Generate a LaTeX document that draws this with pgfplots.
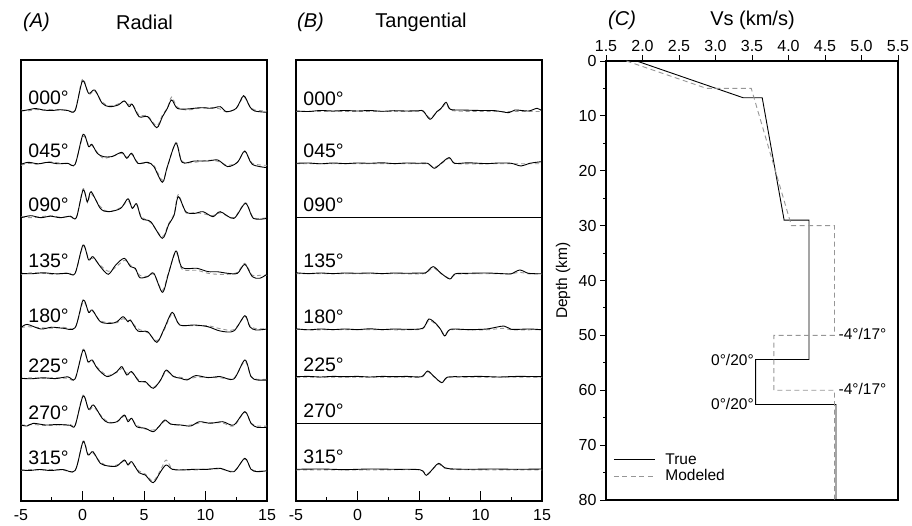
\documentclass[border=0pt]{standalone}
\usepackage{fontspec}
\setmainfont{Liberation Sans}
\usepackage{pgfplots}
\pgfplotsset{compat=1.18}
\usepackage{pgfplotstable}
\definecolor{modgray}{RGB}{150,150,150}
\newcommand\fs[1]{\fontsize{#1}{#1}\selectfont}

% Radial traces: t, true, modeled (amplitude in px above baseline)
\pgfplotstableread{
t r m
-5 -1 0
-4.5 0 -1
-3.8 1.5 0.5
-3.2 0 0
-2.5 -0.5 0.5
-1.8 0.3 0
-1.2 -0.5 0
-0.6 -0.5 -0.5
0 29 31
0.5 16.7 16
1.0 20 19
1.6 6.7 8
2.2 3.3 4
2.9 5 6
3.4 9 9
3.8 3.3 5
4.05 5.7 6
4.6 -6.7 -5
5.3 -6.7 -6
6.04 -17.7 -16
6.5 -6.7 -5
6.9 1.7 2
7.25 10 13
7.7 1.7 3
8.5 1 0
9.6 2.3 2
10.5 1.7 2.5
11.2 3.3 1
11.7 -1.7 -2
12.5 1.7 1.5
13.1 14.3 13
13.6 3.3 4
14.0 -1 0
15 -2.3 -1
}\RA
\pgfplotstableread{
t r m
-5 -1 -2
-4.4 1 0
-3.6 -0.5 -1
-2.8 1 1.5
-2.0 -0.5 0.5
-1.2 0 -0.5
-0.6 -1 -0.5
0.05 29 27
0.5 16.7 18
0.76 19 18
1.2 10 11
1.7 6.7 5
2.4 6.7 7
3.2 11 10
3.6 5 6
4.0 10 9
4.5 0 1
5.3 1 0
5.8 -3.3 -2
6.5 -19 -17
6.9 -3.3 -4
7.6 20 21
8.1 1 2
9.1 2.3 1
10.2 2.3 3
11.0 3.3 2
11.8 -3.3 -2
12.6 1 1
13.2 12.3 12
13.8 -1 0
15 -4.3 -2
}\RB
\pgfplotstableread{
t r m
-5 -1 0
-4.2 1 -1
-3.4 -1 0
-2.6 0.5 1
-1.8 -1 -0.5
-1.0 0.5 0
-0.5 -1 -1
0.05 26.7 28
0.4 15 14
0.7 25 23
1.45 8.3 10
2.1 5 5
3.1 8.3 9
3.7 18 16
4.05 8.3 9
4.4 13 12
4.8 -1.7 0
5.55 -5 -6
6.49 -21.6 -20
7.0 -8 -7
7.45 1.7 3
7.79 20 22
8.4 5 4
9.1 3.3 4
9.8 5 3
10.6 0 1
11.2 5 4
12.3 -1.7 -1
13.25 13.3 14
13.9 -1.7 -1
15 -1.7 -1
}\RC
\pgfplotstableread{
t r m
-5 0 -1
-4.2 -0.5 0.5
-3.2 0.5 0
-2.2 -0.5 -1
-1.2 0 0.5
-0.6 0 0
0.05 28.3 27
0.5 13.3 15
0.85 16.7 15
1.45 6.7 8
2.1 -1 2
2.7 8.3 6
3.4 15 13
3.9 6.7 8
4.3 5 4
4.65 -4.3 -2
5.3 -3.3 -3
5.8 0 -1
6.5 -19 -17
7.0 0 1
7.6 22.3 21
8.1 5.7 4
9.3 5 3
10.2 1.7 0
11.0 1.5 -1
11.8 0 -1
12.6 0 1
13.2 9 10
13.8 -3.3 -2
14.4 -5 -2
15 -1 -2
}\RD
\pgfplotstableread{
t r m
-5 0 0
-4.5 3.3 1
-3.4 -1.3 0
-2.5 0.5 -0.5
-1.6 -0.5 0.5
-0.6 0 0
0.05 27.7 26
0.5 15.3 16
0.8 17.7 17
1.45 6 7
2.3 4.3 5
2.8 6 5
3.3 11 9
3.7 6 7
3.9 7.7 7
4.5 -3.3 -1
5.3 -4 -5
6.05 -14.7 -13
6.65 -0.7 -2
7.3 15.3 14
7.9 2.7 3
9.1 2.7 2
10.2 1 2
11.2 -3.3 -1
12.3 -3.3 -2
13.2 12 11
13.6 1 2
14.1 -2.3 -1
15 -1.3 -1
}\RE
\pgfplotstableread{
t r m
-5 0 -0.5
-4.2 -0.5 0.5
-3.2 0.5 0
-2.2 -0.3 0.5
-1.2 1.5 0
-0.6 -0.5 -0.5
0.05 28.3 29
0.45 16.7 16
0.8 18.3 17
1.2 10 11
2.0 1.7 3
2.8 6.7 6
3.2 11.7 10
3.6 3.3 5
4.0 6.7 6
4.6 -3.3 -2
5.1 -3.3 -4
5.75 -10 -9
6.35 -1.7 -2
6.8 8.3 7
7.4 1.7 2
8.0 0 1
8.5 -1.7 -1
9.2 2.7 1
10.2 0.7 1
11.2 1.7 0.5
12.3 -0.7 0
13.2 18.3 17
13.7 1.7 2
14.2 -1.7 -1
15 -1.7 -1
}\RF
\pgfplotstableread{
t r m
-5 0 0
-4.5 -1 0
-4.0 1.7 0.5
-3.0 0 -0.5
-2.0 0.5 0
-1.0 -0.3 0.5
-0.6 -0.5 -0.5
0.05 29 30
0.5 15.7 15
0.9 20 18
1.6 6.7 8
2.1 2.3 3
2.8 3.3 3
3.4 10 9
3.7 3.3 5
4.0 6.7 6
4.4 -1.7 0
5.1 -3.3 -4
5.75 -6.7 -5
6.2 -1.7 -2
6.7 5 4
7.15 1 1
8.0 0 -0.5
8.8 -1 0
9.5 3.3 2
10.4 1.7 2.5
11.4 3.3 2
12.3 0 -1
13.2 13.3 13
13.7 1.7 2
14.2 -2.3 -1
15 -2.3 -1
}\RG
\pgfplotstableread{
t r m
-5 0 -0.5
-4.3 -0.5 0.5
-3.5 0.5 0
-2.6 -0.5 0.5
-1.6 0.5 0
-0.6 -0.5 -0.5
0.05 28.3 29
0.45 15 16
0.85 18.3 17
1.45 6.7 8
2.1 4 4
2.8 4 5
3.4 10 9
3.7 5 6
4.0 8.3 7
4.6 -2.7 -1
5.1 -5 -4
5.75 -12.7 -11
6.35 -1.7 0
6.8 5 10
7.3 0.7 1
8.0 0 0.5
9.1 0.7 0
10.2 0.7 1
11.2 1.7 1
12.3 -1.7 -1
13.2 11.7 11
13.7 0.7 1
14.2 -1.7 -1
15 -0.7 -1
}\RH

% Tangential traces
\pgfplotstableread{
t r m
-5 0 -0.5
-4 -0.5 -0.5
-3 0.5 -0.5
-2 0 -0.5
-1 0.5 -0.5
0 0 -0.5
1 0.5 -0.5
2 -0.3 -0.5
3 0.3 -0.5
4 0 -0.5
5 0.3 -0.3
5.35 0 -0.5
5.9 -8.3 -7
6.45 -0.7 -1
6.8 2.7 2
7.2 8.7 7.5
7.55 1.7 1
8.5 1 -0.3
10 0.5 -0.5
11.2 0.3 -0.5
12.3 -1.7 -0.5
12.8 1 -0.5
13.9 0 -0.5
14.6 2.7 -0.5
15 0 -0.5
}\TA
\pgfplotstableread{
t r m
-5 0 -0.5
-4 0.3 -0.5
-3 -0.5 -0.5
-2 0.3 -0.5
-1 -0.3 -0.5
0 0.3 -0.5
1 0 -0.5
2 0.5 -0.5
3 -0.3 -0.5
4 0.3 -0.5
5 0 -0.5
5.7 0 -0.5
6.25 -5 -4
6.8 0 -0.5
7.45 5.7 5
7.9 0 -0.3
9 0.5 -0.5
10.5 -0.3 -0.5
11.5 0.3 -0.5
12.5 0 -0.5
13.3 -2.7 -0.5
14 0 -0.5
15 1.7 -0.5
}\TB
\pgfplotstableread{
t r m
-5 0 -0.3
0 0 -0.3
5 0 -0.3
10 0 -0.3
15 0 -0.3
}\TC
\pgfplotstableread{
t r m
-5 0.5 -0.5
-4 -0.3 -0.5
-3 0.3 -0.5
-2 -0.3 -0.5
-1 0.3 -0.5
0 0 -0.5
1 0.3 -0.5
2 -0.3 -0.5
3 0.3 -0.5
4 0 -0.5
5 0.3 -0.5
5.55 0.5 0
6.15 6.7 5.5
6.75 0.5 0
7.5 -5.7 -5
7.95 -0.5 -1
9 0 -0.5
10.5 0.3 -0.5
12 -0.5 -0.5
12.5 -0.5 -0.5
13.2 3.3 1
13.9 0 -0.5
15 -0.5 -0.5
}\TD
\pgfplotstableread{
t r m
-5 0.5 0
-4 -0.5 -0.5
-3 0.3 -0.5
-2 -0.3 -0.5
-1 0.3 -0.5
0 -0.3 -0.5
1 0.5 -0.5
2 -0.3 -0.5
3 0.3 -0.5
4 0 -0.5
5.3 1 0.5
5.8 10.3 9
6.4 5.3 4.5
6.75 0 0
7.1 -6.7 -5.5
7.55 0 -0.5
9 -0.3 -0.5
10.5 0.3 -0.5
11.9 3.3 1
12.5 0 -0.5
14 0.3 -0.5
15 -0.5 -0.5
}\TE
\pgfplotstableread{
t r m
-5 0 -0.5
-4 0.3 -0.5
-3 -0.3 -0.5
-2 0.3 -0.5
-1 0 -0.5
0 0.3 -0.5
1 -0.3 -0.5
2 0.3 -0.5
3 0 -0.5
4 0.3 -0.5
5.2 0 -0.5
5.7 5.7 5
6.2 0.5 0
6.85 -6 -5.5
7.3 -0.5 -1
8.5 0 -0.5
10 0.3 -0.5
11.5 -0.3 -0.5
13 0.3 -0.5
15 0 -0.5
}\TF
\pgfplotstableread{
t r m
-5 0 -0.3
0 0 -0.3
5 0 -0.3
10 0 -0.3
15 0 -0.3
}\TG
\pgfplotstableread{
t r m
-5 0 -0.5
-3 0.3 -0.5
-1 -0.3 -0.5
1 0.3 -0.5
3 0 -0.5
5.1 -0.5 -0.5
5.6 -6 -5
6.2 1.5 1
6.6 6 5
7.1 1.5 1
7.5 0.5 0
9 0 -0.5
11 0.3 -0.5
13 0 -0.5
15 0.3 -0.5
}\TH

% Velocity models
\pgfplotstableread{
vs z
1.92 0
3.38 6.7
3.64 6.7
3.94 29.0
4.28 29.0
4.28 54.4
3.55 54.4
3.55 62.6
4.65 62.6
4.65 80
}\VTrue
\pgfplotstableread{
vs z
1.78 0
2.88 5.0
3.49 5.0
4.04 30.0
4.63 30.0
4.63 50.0
3.80 50.0
3.80 60.0
4.63 60.0
4.63 80
}\VMod

\pgfplotsset{
  trueline/.style={black, line width=0.9pt, smooth, no marks},
  modline/.style={modgray, line width=0.9pt, dash pattern=on 4pt off 3pt, smooth, no marks},
  trace panel/.style={
    anchor=south west, scale only axis, width=246pt, height=441pt,
    xmin=-5, xmax=15, ymin=0, ymax=441,
    xtick={-5,0,5,10,15}, minor x tick num=1, ytick=\empty,
    xtick pos=left, tick align=inside,
    major tick length=10pt, minor tick length=4pt,
    axis line style={line width=1.3pt},
    every tick/.style={black, line width=1pt},
    /pgf/number format/assume math mode=true,
    xticklabel style={font=\fs{16}, yshift=-5pt},
    clip=false,
  },
}
\newcommand\lab[2]{\node[anchor=south west, inner sep=0pt, font=\fs{19.5}] at (axis cs:-4.41,#1) {#2};}

\begin{document}
\begin{tikzpicture}[x=1pt,y=1pt]
\useasboundingbox (0,0) rectangle (912,525);

% Titles
\node[anchor=west, inner sep=0pt, font=\fs{20}\itshape] at (23,503) {(A)};
\node[anchor=center, inner sep=0pt, font=\fs{20}] at (144.5,503) {Radial};
\node[anchor=west, inner sep=0pt, font=\fs{20}\itshape] at (297,503) {(B)};
\node[anchor=center, inner sep=0pt, font=\fs{20}] at (421,503) {Tangential};
\node[anchor=west, inner sep=0pt, font=\fs{20}\itshape] at (608,505) {(C)};
\node[anchor=center, inner sep=0pt, font=\fs{20}] at (752.5,505) {Vs (km/s)};

% Panel A
\begin{axis}[trace panel, at={(21pt,24pt)}]
\addplot[modline] table[x=t, y expr=\thisrow{m}+391] {\RA};
\addplot[trueline] table[x=t, y expr=\thisrow{r}+391] {\RA};
\addplot[modline] table[x=t, y expr=\thisrow{m}+337.7] {\RB};
\addplot[trueline] table[x=t, y expr=\thisrow{r}+337.7] {\RB};
\addplot[modline] table[x=t, y expr=\thisrow{m}+284.3] {\RC};
\addplot[trueline] table[x=t, y expr=\thisrow{r}+284.3] {\RC};
\addplot[modline] table[x=t, y expr=\thisrow{m}+227.7] {\RD};
\addplot[trueline] table[x=t, y expr=\thisrow{r}+227.7] {\RD};
\addplot[modline] table[x=t, y expr=\thisrow{m}+173.3] {\RE};
\addplot[trueline] table[x=t, y expr=\thisrow{r}+173.3] {\RE};
\addplot[modline] table[x=t, y expr=\thisrow{m}+122.7] {\RF};
\addplot[trueline] table[x=t, y expr=\thisrow{r}+122.7] {\RF};
\addplot[modline] table[x=t, y expr=\thisrow{m}+76] {\RG};
\addplot[trueline] table[x=t, y expr=\thisrow{r}+76] {\RG};
\addplot[modline] table[x=t, y expr=\thisrow{m}+31] {\RH};
\addplot[trueline] table[x=t, y expr=\thisrow{r}+31] {\RH};
\lab{396}{000°}
\lab{342.7}{045°}
\lab{289.3}{090°}
\lab{232.7}{135°}
\lab{178.3}{180°}
\lab{127.7}{225°}
\lab{81}{270°}
\lab{36}{315°}
\end{axis}

% Panel B
\begin{axis}[trace panel, at={(296pt,24pt)}]
\addplot[modline] table[x=t, y expr=\thisrow{m}+390] {\TA};
\addplot[trueline] table[x=t, y expr=\thisrow{r}+390] {\TA};
\addplot[modline] table[x=t, y expr=\thisrow{m}+337.7] {\TB};
\addplot[trueline] table[x=t, y expr=\thisrow{r}+337.7] {\TB};
\addplot[modline] table[x=t, y expr=\thisrow{m}+283.7] {\TC};
\addplot[trueline] table[x=t, y expr=\thisrow{r}+283.7] {\TC};
\addplot[modline] table[x=t, y expr=\thisrow{m}+227.7] {\TD};
\addplot[trueline] table[x=t, y expr=\thisrow{r}+227.7] {\TD};
\addplot[modline] table[x=t, y expr=\thisrow{m}+171.7] {\TE};
\addplot[trueline] table[x=t, y expr=\thisrow{r}+171.7] {\TE};
\addplot[modline] table[x=t, y expr=\thisrow{m}+124.3] {\TF};
\addplot[trueline] table[x=t, y expr=\thisrow{r}+124.3] {\TF};
\addplot[modline] table[x=t, y expr=\thisrow{m}+77.7] {\TG};
\addplot[trueline] table[x=t, y expr=\thisrow{r}+77.7] {\TG};
\addplot[modline] table[x=t, y expr=\thisrow{m}+31.7] {\TH};
\addplot[trueline] table[x=t, y expr=\thisrow{r}+31.7] {\TH};
\lab{395}{000°}
\lab{342.7}{045°}
\lab{288.7}{090°}
\lab{232.7}{135°}
\lab{176.7}{180°}
\lab{129.3}{225°}
\lab{82.7}{270°}
\lab{36.7}{315°}
\end{axis}

% Panel C
\begin{axis}[
  at={(606pt,25pt)}, anchor=south west, scale only axis,
  width=292pt, height=439pt,
  xmin=1.5, xmax=5.5, ymin=0, ymax=80, y dir=reverse,
  xtick={1.5,2,...,5.5}, ytick={0,10,...,80}, minor y tick num=1,
  xtick pos=right, xticklabel pos=right, ytick pos=left,
  tick align=outside, major tick length=6pt, minor tick length=3pt,
  axis line style={line width=1.5pt},
  every tick/.style={black, line width=1pt},
  /pgf/number format/assume math mode=true,
  xticklabel style={font=\fs{16}, /pgf/number format/.cd, fixed, fixed zerofill, precision=1},
  yticklabel style={font=\fs{16}},
  ylabel={Depth (km)},
  every axis y label/.style={at={(axis description cs:-0.147,0.5)}, rotate=90, anchor=center, font=\fs{15.5}},
  legend style={at={(axis description cs:0.025,0.035)}, anchor=south west, draw=none, fill=none,
    font=\fs{15.5}, inner sep=0pt, row sep=0pt, cells={anchor=west}},
  legend image code/.code={\draw[#1] (0pt,0pt) -- (41pt,0pt); \path (49pt,0pt);},
  clip=false,
]
\addplot[black, line width=0.9pt, no marks] table[x=vs, y=z] {\VTrue};
\addlegendentry{True}
\addplot[modgray, line width=0.9pt, dash pattern=on 5pt off 3.5pt, no marks] table[x=vs, y=z] {\VMod};
\addlegendentry{Modeled}
\node[anchor=west, inner sep=1pt, font=\fs{15.5}] at (axis cs:4.67,49.8) {-4°/17°};
\node[anchor=west, inner sep=1pt, font=\fs{15.5}] at (axis cs:4.67,59.8) {-4°/17°};
\node[anchor=east, inner sep=1pt, font=\fs{15.5}] at (axis cs:3.54,54.5) {0°/20°};
\node[anchor=east, inner sep=1pt, font=\fs{15.5}] at (axis cs:3.54,62.5) {0°/20°};
\end{axis}
\end{tikzpicture}
\end{document}
